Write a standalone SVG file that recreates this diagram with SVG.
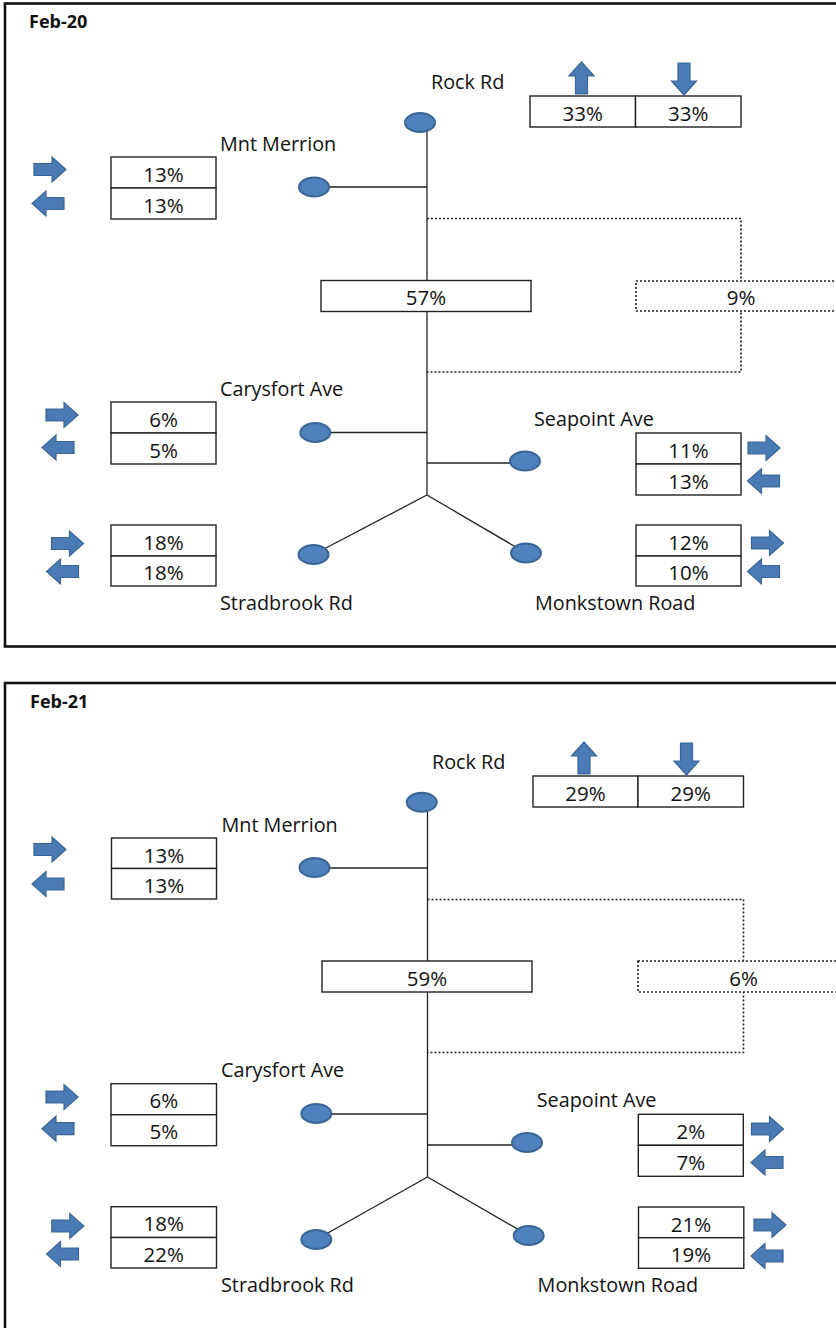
<svg xmlns="http://www.w3.org/2000/svg" xmlns:xlink="http://www.w3.org/1999/xlink" width="836" height="1328" viewBox="0 0 836 1328">
<style>
.frame{fill:none;stroke:#111;stroke-width:2.6}
.box{fill:#fff;stroke:#222;stroke-width:1.4}
.dbox{fill:#fff;stroke:#222;stroke-width:1.6;stroke-dasharray:2 2}
.edge{stroke:#222;stroke-width:1.3;fill:none}
.dotted{stroke:#222;stroke-width:1.6;fill:none;stroke-dasharray:2 2}
.node{fill:#4f81bd;stroke:#3a6595;stroke-width:2}
.arr{fill:#4a7bb4;stroke:#3a6595;stroke-width:1.2}
.pct{font-family:"Open Sans","Liberation Sans",sans-serif;font-size:20.5px;fill:#111;text-anchor:middle}
.lbl{font-family:"Open Sans","Liberation Sans",sans-serif;font-size:19.8px;fill:#111}
.title{font-family:"Open Sans","Liberation Sans",sans-serif;font-size:18px;font-weight:bold;fill:#111}
</style>
<defs>
<path id="arrR" d="M-16,-6 H2 V-12.5 L16,0 L2,12.5 V6 H-16 Z"/>
</defs>
<rect width="836" height="1328" fill="#fff"/>

<!-- ===== Panel Feb-20 ===== -->
<g id="panel-feb20">
<rect class="frame" x="5" y="3.5" width="850" height="643"/>
<text class="title" x="29" y="28">Feb-20</text>
<g id="p1-connectors">
<line class="edge" x1="427" y1="122" x2="427" y2="495"/>
<line class="edge" x1="314" y1="187" x2="427" y2="187"/>
<line class="edge" x1="315" y1="432.5" x2="427" y2="432.5"/>
<line class="edge" x1="427" y1="463" x2="525" y2="463"/>
<line class="edge" x1="427" y1="495" x2="313.5" y2="554.5"/>
<line class="edge" x1="427" y1="495" x2="526" y2="553"/>
<path class="dotted" d="M427,218.5 H741 V372 H427"/>
</g>
<g id="p1-rock">
<ellipse class="node" cx="420" cy="122.5" rx="15" ry="9.5"/>
<text class="lbl" x="431" y="89">Rock Rd</text>
<rect class="box" x="530" y="96" width="105.5" height="31"/>
<rect class="box" x="635.5" y="96" width="105.5" height="31"/>
<text class="pct" x="582.7" y="120.5">33%</text>
<text class="pct" x="688.2" y="120.5">33%</text>
<use xlink:href="#arrR" class="arr" transform="translate(581.5,78) rotate(-90)"/>
<use xlink:href="#arrR" class="arr" transform="translate(684,79) rotate(90)"/>
</g>
<g id="p1-mnt">
<ellipse class="node" cx="314" cy="187" rx="15" ry="9.5"/>
<text class="lbl" x="220" y="150.5">Mnt Merrion</text>
<rect class="box" x="111" y="157" width="105" height="31"/>
<rect class="box" x="111" y="188" width="105" height="31"/>
<text class="pct" x="163.5" y="181.5">13%</text>
<text class="pct" x="163.5" y="212.5">13%</text>
<use xlink:href="#arrR" class="arr" transform="translate(50,169.5)"/>
<use xlink:href="#arrR" class="arr" transform="translate(48,203.5) rotate(180)"/>
</g>
<g id="p1-centre">
<rect class="box" x="321" y="280.5" width="210" height="31"/>
<text class="pct" x="426" y="305">57%</text>
</g>
<g id="p1-other">
<rect class="dbox" x="636" y="281" width="210" height="30"/>
<text class="pct" x="741" y="305">9%</text>
</g>
<g id="p1-carysfort">
<ellipse class="node" cx="315.3" cy="432.5" rx="15" ry="9.5"/>
<text class="lbl" x="220" y="396">Carysfort Ave</text>
<rect class="box" x="111" y="402" width="105" height="31"/>
<rect class="box" x="111" y="433" width="105" height="31"/>
<text class="pct" x="163.5" y="426.5">6%</text>
<text class="pct" x="163.5" y="457.5">5%</text>
<use xlink:href="#arrR" class="arr" transform="translate(62,415)"/>
<use xlink:href="#arrR" class="arr" transform="translate(58,447.5) rotate(180)"/>
</g>
<g id="p1-seapoint">
<ellipse class="node" cx="525" cy="461" rx="15" ry="9.5"/>
<text class="lbl" x="534" y="426">Seapoint Ave</text>
<rect class="box" x="636" y="433" width="105" height="31"/>
<rect class="box" x="636" y="464" width="105" height="31"/>
<text class="pct" x="688.5" y="457.5">11%</text>
<text class="pct" x="688.5" y="488.5">13%</text>
<use xlink:href="#arrR" class="arr" transform="translate(764,448)"/>
<use xlink:href="#arrR" class="arr" transform="translate(763.5,481) rotate(180)"/>
</g>
<g id="p1-stradbrook">
<ellipse class="node" cx="313.5" cy="554.5" rx="15" ry="9.5"/>
<text class="lbl" x="220" y="610">Stradbrook Rd</text>
<rect class="box" x="111" y="525" width="105" height="31"/>
<rect class="box" x="111" y="556" width="105" height="30"/>
<text class="pct" x="163.5" y="549.5">18%</text>
<text class="pct" x="163.5" y="580">18%</text>
<use xlink:href="#arrR" class="arr" transform="translate(67.5,543.5)"/>
<use xlink:href="#arrR" class="arr" transform="translate(62.5,571.5) rotate(180)"/>
</g>
<g id="p1-monkstown">
<ellipse class="node" cx="526" cy="553" rx="15" ry="9.5"/>
<text class="lbl" x="535" y="610">Monkstown Road</text>
<rect class="box" x="636" y="525" width="105" height="31"/>
<rect class="box" x="636" y="556" width="105" height="30"/>
<text class="pct" x="688.5" y="549.5">12%</text>
<text class="pct" x="688.5" y="580">10%</text>
<use xlink:href="#arrR" class="arr" transform="translate(767.5,543)"/>
<use xlink:href="#arrR" class="arr" transform="translate(763.5,571.5) rotate(180)"/>
</g>
</g>

<!-- ===== Panel Feb-21 ===== -->
<g id="panel-feb21">
<rect class="frame" x="5" y="683" width="850" height="700"/>
<text class="title" x="30" y="708">Feb-21</text>
<g id="p2-connectors">
<line class="edge" x1="427.5" y1="802" x2="427.5" y2="1177"/>
<line class="edge" x1="314.5" y1="868" x2="427.5" y2="868"/>
<line class="edge" x1="316.3" y1="1114" x2="427.5" y2="1114"/>
<line class="edge" x1="427.5" y1="1145" x2="527" y2="1145"/>
<line class="edge" x1="427.5" y1="1177" x2="316.3" y2="1239.5"/>
<line class="edge" x1="427.5" y1="1177" x2="528.7" y2="1235.5"/>
<path class="dotted" d="M427.5,899.5 H743.5 V1052.5 H427.5"/>
</g>
<g id="p2-rock">
<ellipse class="node" cx="421.7" cy="802.3" rx="15" ry="9.5"/>
<text class="lbl" x="432" y="769">Rock Rd</text>
<rect class="box" x="533" y="776" width="105" height="31"/>
<rect class="box" x="638" y="776" width="105.5" height="31"/>
<text class="pct" x="585.5" y="800.5">29%</text>
<text class="pct" x="690.8" y="800.5">29%</text>
<use xlink:href="#arrR" class="arr" transform="translate(584,758) rotate(-90)"/>
<use xlink:href="#arrR" class="arr" transform="translate(686.5,759) rotate(90)"/>
</g>
<g id="p2-mnt">
<ellipse class="node" cx="314.5" cy="867.5" rx="15" ry="9.5"/>
<text class="lbl" x="221.5" y="831.7">Mnt Merrion</text>
<rect class="box" x="111.5" y="838" width="105" height="30.5"/>
<rect class="box" x="111.5" y="868.5" width="105" height="30.5"/>
<text class="pct" x="164" y="862.5">13%</text>
<text class="pct" x="164" y="893">13%</text>
<use xlink:href="#arrR" class="arr" transform="translate(50,849.5)"/>
<use xlink:href="#arrR" class="arr" transform="translate(48,884) rotate(180)"/>
</g>
<g id="p2-centre">
<rect class="box" x="322" y="961" width="210" height="31"/>
<text class="pct" x="427" y="985.5">59%</text>
</g>
<g id="p2-other">
<rect class="dbox" x="638" y="961" width="210" height="31"/>
<text class="pct" x="743.5" y="985.5">6%</text>
</g>
<g id="p2-carysfort">
<ellipse class="node" cx="316.3" cy="1113.5" rx="15" ry="9.5"/>
<text class="lbl" x="221" y="1076.7">Carysfort Ave</text>
<rect class="box" x="111" y="1083.7" width="105.5" height="31"/>
<rect class="box" x="111" y="1114.7" width="105.5" height="31"/>
<text class="pct" x="163.8" y="1108">6%</text>
<text class="pct" x="163.8" y="1139">5%</text>
<use xlink:href="#arrR" class="arr" transform="translate(62,1097)"/>
<use xlink:href="#arrR" class="arr" transform="translate(58,1128.7) rotate(180)"/>
</g>
<g id="p2-seapoint">
<ellipse class="node" cx="527" cy="1142.5" rx="15" ry="9.5"/>
<text class="lbl" x="536.7" y="1107.3">Seapoint Ave</text>
<rect class="box" x="638.3" y="1114.3" width="105" height="31"/>
<rect class="box" x="638.3" y="1145.3" width="105" height="31"/>
<text class="pct" x="690.8" y="1139">2%</text>
<text class="pct" x="690.8" y="1170">7%</text>
<use xlink:href="#arrR" class="arr" transform="translate(767.5,1129)"/>
<use xlink:href="#arrR" class="arr" transform="translate(767,1162.5) rotate(180)"/>
</g>
<g id="p2-stradbrook">
<ellipse class="node" cx="316.3" cy="1239.5" rx="15" ry="9.5"/>
<text class="lbl" x="221" y="1291.7">Stradbrook Rd</text>
<rect class="box" x="111" y="1206.7" width="105.5" height="30.8"/>
<rect class="box" x="111" y="1237.5" width="105.5" height="30.5"/>
<text class="pct" x="163.8" y="1231">18%</text>
<text class="pct" x="163.8" y="1262">22%</text>
<use xlink:href="#arrR" class="arr" transform="translate(67.8,1226)"/>
<use xlink:href="#arrR" class="arr" transform="translate(62.5,1254) rotate(180)"/>
</g>
<g id="p2-monkstown">
<ellipse class="node" cx="528.7" cy="1235.5" rx="15" ry="9.5"/>
<text class="lbl" x="537.6" y="1291.7">Monkstown Road</text>
<rect class="box" x="638.5" y="1207" width="105.3" height="30.7"/>
<rect class="box" x="638.5" y="1237.7" width="105.3" height="30.6"/>
<text class="pct" x="691" y="1231.5">21%</text>
<text class="pct" x="691" y="1262">19%</text>
<use xlink:href="#arrR" class="arr" transform="translate(770,1225)"/>
<use xlink:href="#arrR" class="arr" transform="translate(767,1256) rotate(180)"/>
</g>
</g>
</svg>
